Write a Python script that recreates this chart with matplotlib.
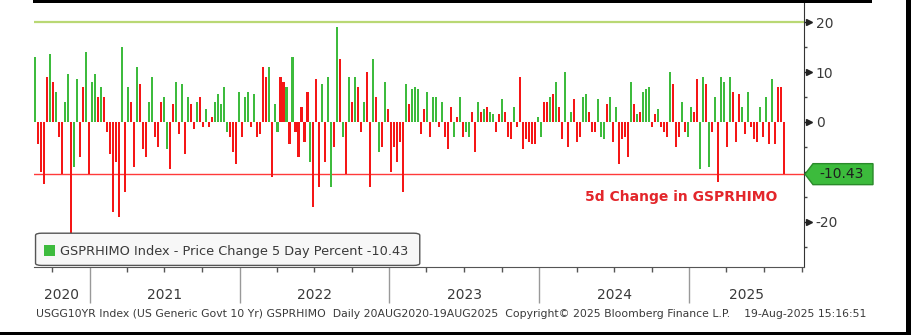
import matplotlib
matplotlib.use("Agg")
import matplotlib.pyplot as plt
import matplotlib.dates as mdates
import matplotlib.transforms as mtransforms
from matplotlib.patches import Rectangle, Polygon, FancyBboxPatch
import numpy as np
import pandas as pd

# 5-day % change of GSPRHIMO (left to right)
values = [
    13, -4.5, -10, -12.5, 9, 13.5, 8, 6, -3, -10.5, 4, 9.5, -23, -9, 8.5, -7, 7, 14, -10.5, 8,
    9.5, 5, 7, 5, -2, -6.5, -18, -8, -19, 15, -14, 7, 4, -9, 11, 7.5, -5.5, -7, 4, 9,
    -3, -5,
    4, 5, -5.5, -9.5, 3.5, 8, -2.5, 7.5, -6.5, 5, 3.5, -1.5, 4, 5, -1, 2.5, -1, 1, 4, 5.5,
    3.5, 7, -2, -3, -6, -8.5, 6, -3, 5, 6, -1, 5.5, -3, -2.5, 11, 9, 11, -11, 3.5, -2,
    9, 8,
    7, -4.5, 13, -2, -7, 3, -4, 6, -8, -17, 8.5, -13, 7.5, -8, 9, -13, -5, 19, 12.5, -3,
    -10.5, 9, 4, 9, 7, -2, 4, 10, -13, 12.5, 5, -6, -5, 8, 2.5, -10, -5, -8, -4, -14,
    7.5, 3.5,
    6.5, 7, 6.5, -2.5, 2.5, 6, -3, 5, 5, -1, 4, -3, -5.5, 3, -3, 1, 5, -3, -2, -3,
    2, -6, 4, 2, 2.5, 3, 2, 1.5, -2, 1.5, 4.5, 2, -3, -3.5, 3, -1, 9, -5.5, -3.5, -4,
    -4.5,
    -4.5, 1, -3, 4, 4, 5, 5.5, 8, 3, -3.5, 10, -5, 2, 4.5, -4, -3, 5, 5.5, 2, -2,
    -2, 4.5, -3, -3.5, 3.5, 5, -4, 3, -8.5, -3.5, -3, -7, 8, 3.5, 1.5, 2, 6, 6.5, 7, -1,
    1.5, 2.5,
    -1, -2, -3, 10, 7.5, -5, -3, 4, -2, -3, 3, 2, 8.5, -9.5, 9, 7.5, -9, -2, 5, -12,
    9, 8, -5, 9, 6, -4, 5.5, 3, -2.5, 6, -1, -3.5, -4, 3, -3, 5, -4.5, 8.5, -4.5, 7,
    7, -10.43,
]
# bar colours (G = green, R = red), same order as values
bar_colors = (
    "GRRRRGRGRRGGRGGRRGRG" "GRGRRRRRRGRGRRGRRRGG" "RR"
    "RGGRRGRGRGRRGRRGRRGG" "GGGRRRGRGGRGRRRRGRGG" "RR"
    "GRGRRRRRGRRRGRGGRGRG" "RGRGRRGRRGRGRGRRRRRR" "GR"
    "GGGRRGRGGRGRRRGRGRGG" "RRGRGRGGRRGRRRGRRRRR" "R"
    "RGGRRGRGRRGRGRRRGGRR" "RGGGRGRGRRRRGRGRGGGR" "RG"
    "RRRGRRRGRGGRRGGRGRGR" "GGRGRRRGRGRRRGRGRGRR" "RR"
)
years = [2020, 2021, 2022, 2023, 2024, 2025]
last_value = -10.43
top_line = 20

GREEN = "#3dbb3d"
RED = "#f51616"
TXT = "#3a3a3a"

dates = pd.date_range("2020-08-20", "2025-08-19", periods=len(values))
colors = [GREEN if c == "G" else RED for c in bar_colors]

W, H = 911, 335
fig = plt.figure(figsize=(W / 100, H / 100), dpi=100)
fig.patch.set_facecolor("white")

ax_l, ax_r, ax_t, ax_b = 34, 804, 3, 267
ax = fig.add_axes([ax_l / W, 1 - ax_b / H, (ax_r - ax_l) / W, (ax_b - ax_t) / H])

step = (dates[1] - dates[0]) / pd.Timedelta(days=1)
ax.bar(dates, values, width=step * 0.68, color=colors, linewidth=0, zorder=2)

ax.axhline(top_line, color="#b9d874", lw=1.6, zorder=1)
ax.axhline(last_value, color="#ff3a3a", lw=1.0, zorder=1)

ax.set_xlim(pd.Timestamp("2020-08-18"), pd.Timestamp("2025-10-07"))
ax.set_ylim(-29, 23.8)

# spines
for s in ["left", "top"]:
    ax.spines[s].set_visible(False)
ax.spines["right"].set_color("#333333")
ax.spines["bottom"].set_color("#555555")

# y axis on the right
ax.yaxis.tick_right()
ax.set_yticks([-20, -10, 0, 10, 20])
ax.set_yticklabels(["-20", "", "0", "10", "20"])
ax.set_yticks([-25, -15, -5, 5, 15], minor=True)
ax.tick_params(axis="y", which="major", length=4.5, width=1, color="#222222",
               labelsize=10, labelcolor=TXT, pad=4)
ax.tick_params(axis="y", which="minor", length=2.5, width=1, color="#444444")
tr_y = mtransforms.blended_transform_factory(ax.transAxes, ax.transData)
ax.plot([1 + 5 / 770] * 4, [-20, 0, 10, 20], ls="none", marker=">", ms=4.5,
        color="#222222", transform=tr_y, clip_on=False)

# x axis: year separators and quarter ticks
ax.xaxis.set_major_locator(mdates.YearLocator())
ax.xaxis.set_minor_locator(mdates.MonthLocator(bymonth=[1, 4, 7, 10]))
ax.xaxis.set_major_formatter(plt.NullFormatter())
ax.tick_params(axis="x", which="major", length=26, width=1, color="#999999")
ax.tick_params(axis="x", which="minor", length=3.5, width=1, color="#555555")

tr_x = mtransforms.blended_transform_factory(ax.transData, ax.transAxes)
x0, x1 = ax.get_xlim()
for y in years:
    a = max(mdates.date2num(pd.Timestamp(f"{y}-01-01")), x0)
    b = min(mdates.date2num(pd.Timestamp(f"{y + 1}-01-01")), x1)
    ax.annotate(str(y), xy=((a + b) / 2, 0), xycoords=tr_x, xytext=(0, -28),
                textcoords="offset pixels", ha="center", va="center",
                fontsize=10, color=TXT, annotation_clip=False)

# last value tag
tag = Polygon([[1 + 1 / 770, last_value], [1 + 9 / 770, last_value + 2.1],
               [1 + 69 / 770, last_value + 2.1], [1 + 69 / 770, last_value - 2.1],
               [1 + 9 / 770, last_value - 2.1]], closed=True, transform=tr_y,
              facecolor="#3cbb3c", edgecolor="#2a8a2a", lw=1, clip_on=False, zorder=5)
ax.add_patch(tag)
ax.text(1 + 38 / 770, last_value, "-10.43", transform=tr_y, ha="center", va="center",
        fontsize=10, color="#1e1e1e", zorder=6, clip_on=False)

ax.text(0.84, -15, "5d Change in GSPRHIMO", transform=tr_y, ha="center", va="center",
        fontsize=10, fontweight="bold", color="#e3262b")

# legend box
box = FancyBboxPatch((0.002, 0.006), 0.499, 0.122, boxstyle="round,pad=0,rounding_size=0.008",
                     transform=ax.transAxes, facecolor="#f7f7f7", edgecolor="#555555",
                     lw=1, zorder=4)
ax.add_patch(box)
ax.add_patch(Rectangle((0.013, 0.04), 0.014, 0.045, transform=ax.transAxes,
                       facecolor=GREEN, edgecolor="none", zorder=5))
ax.text(0.034, 0.06, "GSPRHIMO Index - Price Change 5 Day Percent -10.43",
        transform=ax.transAxes, ha="left", va="center", fontsize=9.3, color=TXT, zorder=5)

fig.text(36 / W, 1 - 314 / H,
         "USGG10YR Index (US Generic Govt 10 Yr) GSPRHIMO  Daily 20AUG2020-19AUG2025  "
         "Copyright\u00a9 2025 Bloomberg Finance L.P.    19-Aug-2025 15:16:51",
         ha="left", va="center", fontsize=7.85, color=TXT)

# black frame of the screenshot
fig.patches.append(Rectangle((33 / W, 1 - 3 / H), (872 - 33) / W, 3 / H,
                             transform=fig.transFigure, facecolor="black", edgecolor="none"))
fig.patches.append(Rectangle((906 / W, 0), 5 / W, 1, transform=fig.transFigure,
                             facecolor="black", edgecolor="none"))
fig.patches.append(Rectangle((0, 0), 1, 3 / H, transform=fig.transFigure,
                             facecolor="black", edgecolor="none"))

fig.savefig("out.png", dpi=100)
